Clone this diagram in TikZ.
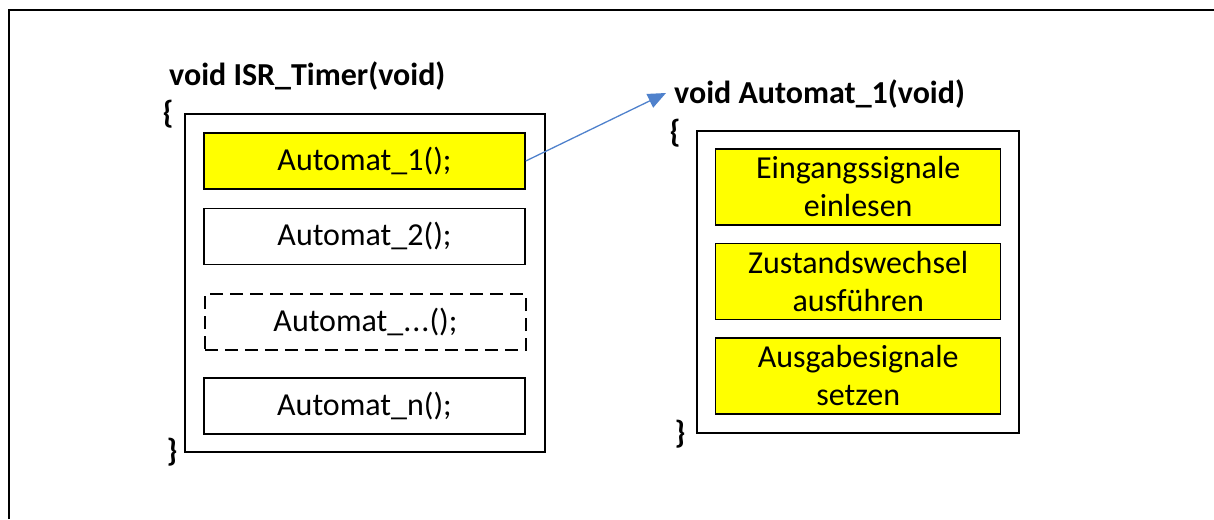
\documentclass[tikz,border=0pt]{standalone}
\usepackage{fontspec}
\setmainfont{Carlito}
\usetikzlibrary{arrows.meta}
\definecolor{yel}{RGB}{255,255,0}
\definecolor{arrowblue}{RGB}{79,129,204}
\begin{document}
\begin{tikzpicture}[x=1pt,y=-1pt,
  call/.style={draw=black, line width=1.5pt, minimum width=321pt, minimum height=56pt,
    inner sep=0pt, font=\fontsize{32}{38}\selectfont, align=center},
  stepbox/.style={draw=black, line width=1.5pt, fill=yel, minimum width=285pt, minimum height=76pt,
    inner sep=0pt, font=\fontsize{32}{38}\selectfont, align=center},
  frame/.style={draw=black, line width=1.5pt, inner sep=0pt},
  heading/.style={anchor=base west, inner sep=0pt, font=\bfseries\fontsize{32}{38}\selectfont},
  brace/.style={inner sep=0pt, font=\bfseries\fontsize{32}{38}\selectfont}]
\useasboundingbox (0,0) rectangle (1214,519);

% page border (top and left edges)
\draw[line width=2pt] (9,519) -- (9,10) -- (1214,10);

% ISR body
\node[heading] (isrhead) at (169,85) {void ISR\_Timer(void)};
\node[frame, minimum width=360pt, minimum height=338pt] (isr) at (365,283) {};
\node[brace] (isropen) at (168,114) {\{};
\node[brace] (isrclose) at (172,452) {\}};
\node[call, fill=yel] (a1) at (364.5,161) {Automat\_1();};
\node[call] (a2) at (364.5,236.5) {Automat\_2();};
\node[call, dash pattern=on 13pt off 7pt] (adots) at (365.5,322) {Automat\_.\kern1pt.\kern1pt.();};
\node[call] (an) at (364.5,406) {Automat\_n();};

% state machine body
\node[heading] (fsmhead) at (674,103) {void Automat\_1(void)};
\node[frame, minimum width=322pt, minimum height=302pt] (fsm) at (858,282) {};
\node[brace] (fsmopen) at (675,133) {\{};
\node[brace] (fsmclose) at (680,434) {\}};
\node[stepbox] (s1) at (858.2,187) {Eingangssignale\\einlesen};
\node[stepbox] (s2) at (858.2,281.5) {Zustandswechsel\\ausführen};
\node[stepbox] (s3) at (858.2,376) {Ausgabesignale\\setzen};

% call link
\coordinate (target) at (666,93);
\draw[arrowblue, line width=1.3pt, -{Triangle[length=18pt,width=15pt]}] (a1.east) -- (target);
\end{tikzpicture}
\end{document}
